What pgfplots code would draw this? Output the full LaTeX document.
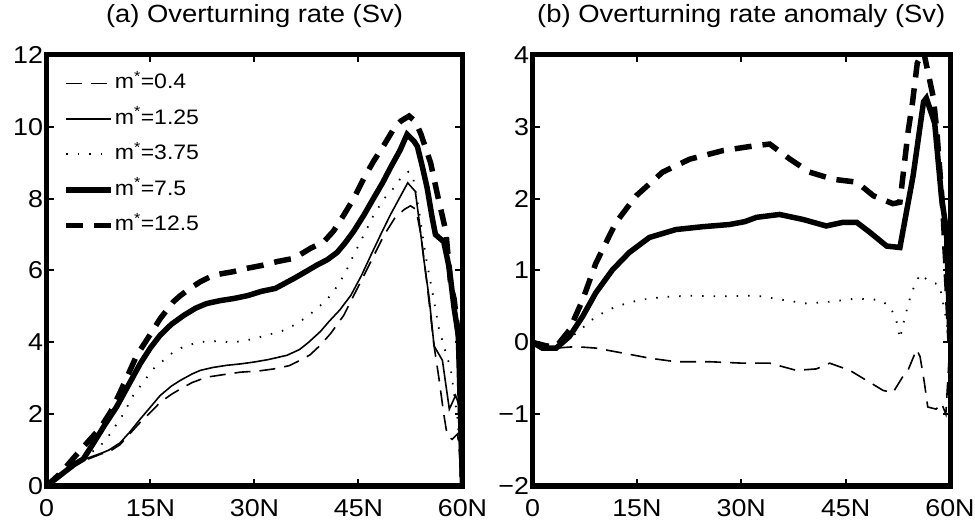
\documentclass[border=0pt]{standalone}
\usepackage{fontspec}
\setmainfont{Liberation Sans}[FakeStretch=1.1]
\usepackage{pgfplots}
\pgfplotsset{compat=1.18}
\pgfplotsset{
  mystyle/.style={
    scale only axis, height=431bp,
    xmin=0, xmax=60,
    xtick={0,15,30,45,60}, xticklabels={0,15N,30N,45N,60N},
    xtick pos=both, ytick pos=both,
    tick align=inside, major tick length=7bp,
    every tick/.style={black, line width=2bp},
    axis line style={line width=5bp},
    tick label style={font=\fontsize{24.5}{24.5}\selectfont},
    xticklabel style={yshift=-10bp},
    title style={font=\fontsize{25}{25}\selectfont, anchor=base, at={(0.5,1)}, yshift=27bp},
  },
  sA/.style={black, line width=1.6bp, dash pattern=on 16bp off 9bp},
  sB/.style={black, line width=1.6bp},
  sC/.style={black, line width=1.8bp, dash pattern=on 1.5bp off 10bp},
  sD/.style={black, line width=5.5bp},
  sE/.style={black, line width=5.5bp, dash pattern=on 17bp off 11bp},
}
\begin{document}
\begin{tikzpicture}
\useasboundingbox (0,0) rectangle (975bp,523bp);
\begin{axis}[mystyle, at={(46.5bp,37bp)}, anchor=south west, width=416bp,
  ymin=0, ymax=12, ytick={0,2,4,6,8,10,12}, yticklabels={0,2,4,6,8,10,12},
  title={(a) Overturning rate (Sv)},
  legend style={draw=none, fill=none, at={(0.04,0.959)}, anchor=north west,
    font=\fontsize{21}{21}\selectfont, inner sep=0pt, row sep=14.5bp,
    nodes={inner sep=1bp, text height=15bp, text depth=4bp}},
  legend cell align=left,
  legend image code/.code={\draw[#1] (0bp,0bp) -- (45bp,0bp);},
]
\addplot[sA] coordinates {(0,0) (2,0.3) (4,0.6) (6,0.75) (8,0.9) (9,0.95) (10.6,1.15) (12,1.45) (13.5,1.77) (15,2.05) (16.4,2.33) (18,2.55) (19.3,2.7) (21,2.88) (23.1,3.03) (25.5,3.1) (28,3.17) (30.5,3.2) (32.8,3.26) (35,3.35) (36.6,3.5) (38,3.65) (39.5,3.92) (41,4.25) (42.9,4.76) (44.3,5.3) (45.8,5.87) (47.3,6.45) (48.7,6.99) (50.2,7.45) (51.6,7.7) (52.5,7.8) (53.3,7.7) (54,7.0) (54.9,5.6) (55.9,3.9) (56.6,3.0) (57.3,2.0) (57.8,1.4) (58.5,1.3) (59.3,1.45) (60,0)};
\addlegendentry{m\textsuperscript{*}=0.4}
\addplot[sB] coordinates {(0,0) (2,0.3) (4,0.6) (6,0.78) (8,0.92) (9,1.0) (10.6,1.2) (12,1.5) (13.5,1.86) (15,2.2) (16.4,2.52) (18,2.78) (19.3,2.94) (21,3.12) (22.2,3.22) (24,3.3) (26,3.36) (28,3.4) (29.9,3.45) (32,3.52) (34.7,3.64) (36.5,3.8) (37.8,4.0) (39.5,4.3) (40.7,4.57) (42.3,4.9) (43.9,5.31) (45.4,5.85) (46.8,6.43) (48.2,7.0) (49.6,7.55) (51,8.05) (52.1,8.44) (53.2,8.2) (53.7,7.46) (54.4,6.34) (55.2,5.22) (55.9,3.9) (57.1,3.5) (58.1,2.14) (59,2.52) (59.6,2.2) (60,0)};
\addlegendentry{m\textsuperscript{*}=1.25}
\addplot[sC] coordinates {(0,0) (2,0.3) (4,0.6) (5.8,0.85) (7.7,1.1) (9.2,1.45) (11,1.98) (12.5,2.52) (14,2.9) (15.4,3.26) (17,3.52) (18.3,3.73) (20,3.9) (22.2,4.01) (24.5,4.03) (27,4.0) (29.5,4.08) (31.8,4.2) (34,4.32) (35.7,4.48) (37.5,4.7) (39,4.94) (40.5,5.2) (41.4,5.41) (43,5.9) (44.3,6.43) (45.8,7.0) (47.2,7.55) (48.7,8.0) (50.1,8.3) (51,8.55) (52.2,8.75) (52.8,8.67) (53.7,7.69) (54.7,6.39) (55.7,5.36) (56.6,4.38) (57.3,3.9) (58.3,3.26) (59.3,1.86) (60,0)};
\addlegendentry{m\textsuperscript{*}=3.75}
\addplot[sD] coordinates {(0,0) (2,0.3) (4,0.6) (5.3,0.75) (6.7,1.17) (8.4,1.7) (10.1,2.2) (11.8,2.8) (13.5,3.4) (15,3.85) (16.4,4.2) (18,4.5) (19.8,4.75) (21.5,4.95) (23.1,5.08) (25,5.16) (27,5.22) (29,5.3) (31,5.42) (33,5.5) (35.7,5.78) (37.5,5.98) (39,6.15) (40.5,6.3) (41.9,6.5) (43,6.75) (44.3,7.09) (45.8,7.55) (47.2,8.02) (48.5,8.45) (49.6,8.86) (51,9.35) (52,9.79) (53,9.6) (53.5,9.45) (54.2,8.9) (54.9,8.3) (55.6,7.5) (56.1,7.0) (57.3,6.8) (58.1,6.06) (58.8,4.94) (59.4,4.2) (60,0)};
\addlegendentry{m\textsuperscript{*}=7.5}
\addplot[sE] coordinates {(0,0) (2,0.35) (4,0.8) (6.3,1.3) (7.7,1.6) (9.2,2.05) (10.6,2.6) (12,3.2) (13,3.63) (14.9,4.2) (16.4,4.66) (18.3,5.13) (19.3,5.3) (20.7,5.5) (22.2,5.69) (24.1,5.87) (27,5.97) (28.9,6.06) (31.3,6.15) (33.3,6.25) (35.7,6.34) (38.1,6.62) (40,6.8) (41.4,7.1) (42.9,7.55) (44.3,8.0) (45.8,8.58) (47.2,9.05) (48.7,9.5) (50.1,9.95) (51.1,10.16) (52.3,10.3) (53.2,10.15) (54,9.8) (55.4,9.0) (56.4,8.1) (57.6,7.09) (58.3,5.6) (58.8,5.2) (59.5,4.0) (60,0)};
\addlegendentry{m\textsuperscript{*}=12.5}
\end{axis}
\begin{axis}[mystyle, at={(532.5bp,37bp)}, anchor=south west, width=417.5bp,
  ymin=-2, ymax=4, ytick={-2,-1,0,1,2,3,4}, yticklabels={−2,−1,0,1,2,3,4},
  title={(b) Overturning rate anomaly (Sv)},
]
\addplot[sA] coordinates {(0,0) (1.5,-0.07) (3.4,-0.08) (6.2,-0.06) (9.1,-0.08) (13,-0.15) (16.8,-0.22) (20.6,-0.27) (25.4,-0.27) (30.2,-0.29) (34.1,-0.29) (37.9,-0.39) (40.8,-0.37) (42.7,-0.29) (45.6,-0.39) (48,-0.53) (50.4,-0.67) (51.8,-0.7) (53.2,-0.48) (54,-0.38) (55.2,-0.1) (55.7,-0.2) (56.3,-0.55) (56.8,-0.9) (58,-0.93) (58.8,-0.85) (59.4,-1.0) (60,0)};
\addplot[sC] coordinates {(0,0) (1.5,-0.05) (3.4,-0.06) (6.2,0.12) (9.1,0.36) (12,0.5) (15.4,0.59) (18.7,0.63) (22.6,0.65) (27.4,0.64) (32.2,0.65) (36,0.59) (39.4,0.54) (43.2,0.57) (46.6,0.61) (49.9,0.59) (51.4,0.5) (52.3,0.3) (52.8,0.05) (53.5,0.35) (54.5,0.7) (55.7,0.95) (57,0.85) (58.5,0.8) (59.3,0.4) (60,0)};
\addplot[sD] coordinates {(0,0) (1.4,-0.08) (3.4,-0.08) (5.3,0.08) (7.2,0.36) (9.1,0.69) (11.5,1.01) (13.9,1.25) (16.8,1.46) (20.6,1.57) (24.5,1.61) (28.3,1.64) (30.5,1.68) (32.2,1.74) (35.5,1.78) (38.9,1.71) (42.2,1.62) (44.6,1.67) (46.6,1.67) (48.5,1.53) (50.9,1.34) (52.8,1.32) (54.7,2.32) (56.2,3.35) (56.6,3.4) (57.8,3.05) (58.8,2.0) (59.5,1.55) (60,0)};
\addplot[sE] coordinates {(0,0) (2,-0.05) (3.4,-0.06) (5.3,0.17) (7.2,0.59) (9.1,1.1) (12,1.67) (14.9,2.04) (18.7,2.37) (22.6,2.55) (27.4,2.67) (32.2,2.74) (34.1,2.76) (37,2.55) (39.8,2.37) (43.2,2.27) (46.6,2.23) (49,2.04) (51.8,1.93) (52.8,1.95) (54,2.95) (54.6,3.33) (55.3,3.89) (56.2,4.05) (57.6,3.41) (58.1,2.95) (59,1.8) (60,0)};
\end{axis}
\end{tikzpicture}
\end{document}
